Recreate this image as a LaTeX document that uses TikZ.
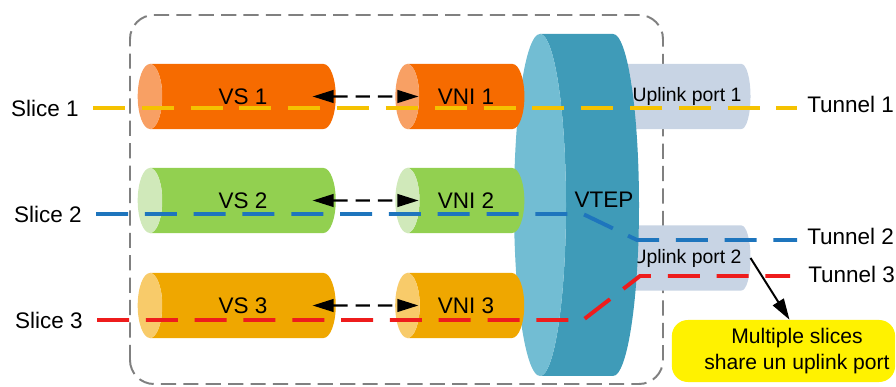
\documentclass[tikz,border=0pt]{standalone}
\usepackage{fontspec}
\setmainfont{Liberation Sans}
\usetikzlibrary{arrows.meta,positioning,shapes.geometric}

\definecolor{vsone}{HTML}{F66B00}
\definecolor{vsonecap}{HTML}{F8A064}
\definecolor{vstwo}{HTML}{92D050}
\definecolor{vstwocap}{HTML}{D0E9BA}
\definecolor{vsthree}{HTML}{EFA700}
\definecolor{vsthreecap}{HTML}{F8CB6A}
\definecolor{vtepdark}{HTML}{3F9BB8}
\definecolor{vteplight}{HTML}{72BDD3}
\definecolor{uplink}{HTML}{C8D4E4}
\definecolor{sliceyellow}{HTML}{F5C200}
\definecolor{sliceblue}{HTML}{1E75BD}
\definecolor{slicered}{HTML}{EE1C1C}

\begin{document}
\begin{tikzpicture}[
  x=0.025cm, y=0.025cm,
  tube/.style={cylinder, shape border rotate=180, shape aspect=1.54, cylinder uses custom fill, minimum width=1.625cm, inner sep=0pt, outer sep=0pt, font=\fontsize{16}{19}\selectfont},
  port/.style={tube, shape aspect=1, cylinder body fill=uplink, cylinder end fill=uplink, minimum height=3.2cm, font=\fontsize{13.8}{16}\selectfont},
  lbl/.style={inner sep=0pt, align=center, font=\fontsize{16}{19}\selectfont},
  slice/.style={line width=2.8pt, dash pattern=on 0.8cm off 0.42cm, shorten <=0.35cm},
  link/.style={{Triangle[length=15pt, width=9pt]}-{Triangle[length=15pt, width=9pt]}, line width=1.5pt, dash pattern=on 0.36cm off 0.2cm},
  arr/.style={-{Triangle[length=15pt, width=9pt]}, line width=1.4pt}
]
\useasboundingbox (0,0) rectangle (896,387);

% switch frame
\draw[gray, line width=1.4pt, dash pattern=on 0.38cm off 0.18cm, rounded corners=0.6cm] (130,3) rectangle (663,372);

% uplink ports
\node[port] (up1) at (687,290.5) {Uplink port 1};
\node[port] (up2) at (687,129) {Uplink port 2};

% VTEP disk
\fill[vtepdark] (540,353) -- (613,353) arc[start angle=90, end angle=-90, x radius=26, y radius=171] -- (540,11) arc[start angle=-90, end angle=90, x radius=26, y radius=171] -- cycle;
\fill[vteplight] (540,182) ellipse[x radius=26, y radius=171];
\node[lbl] (vtep) at (604,187) {VTEP};

% virtual switches and VNIs
\node[tube, minimum height=4.95cm, cylinder body fill=vsone, cylinder end fill=vsonecap] (vs1) at (243,290.5) {VS 1};
\node[tube, minimum height=3.225cm, cylinder body fill=vsone, cylinder end fill=vsonecap] (vni1) at (466,290.5) {VNI 1};
\node[tube, minimum height=4.95cm, cylinder body fill=vstwo, cylinder end fill=vstwocap] (vs2) at (243,186.5) {VS 2};
\node[tube, minimum height=3.225cm, cylinder body fill=vstwo, cylinder end fill=vstwocap] (vni2) at (466,186.5) {VNI 2};
\node[tube, minimum height=4.95cm, cylinder body fill=vsthree, cylinder end fill=vsthreecap] (vs3) at (243,81.5) {VS 3};
\node[tube, minimum height=3.225cm, cylinder body fill=vsthree, cylinder end fill=vsthreecap] (vni3) at (466,81.5) {VNI 3};

% slices and tunnels
\node[lbl, anchor=east] (s1) at (79,279) {Slice 1};
\node[lbl, anchor=east] (s2) at (82,173) {Slice 2};
\node[lbl, anchor=east] (s3) at (83,67) {Slice 3};
\node[lbl, anchor=west] (t1) at (807,283) {Tunnel 1};
\node[lbl, anchor=west] (t2) at (807,151) {Tunnel 2};
\node[lbl, anchor=west] (t3) at (808,113) {Tunnel 3};
\coordinate (b2) at (583,173);
\coordinate (c2) at (637,147);
\coordinate (b3) at (583,67);
\coordinate (c3) at (640,111);

\draw[slice, sliceyellow, shorten >=0.25cm] (s1.east) -- (s1.east -| t1.west);
\draw[slice, sliceblue, shorten >=0.25cm] (s2.east) -- (b2) -- (c2) -- (c2 -| t2.west);
\draw[slice, slicered, shorten >=0.45cm] (s3.east) -- (b3) -- (c3) -- (c3 -| t3.west);

% VS to VNI mapping
\draw[link] ([xshift=-0.58cm]vs1.east) -- ([xshift=0.58cm]vni1.west);
\draw[link] ([xshift=-0.58cm]vs2.east) -- ([xshift=0.58cm]vni2.west);
\draw[link] ([xshift=-0.58cm]vs3.east) -- ([xshift=0.58cm]vni3.west);

% shared uplink note
\node[fill=yellow, rounded corners=0.4cm, minimum width=5.58cm, minimum height=1.55cm, inner sep=0pt] (box) at (783.5,36) {};
\node[lbl, font=\fontsize{15}{18}\selectfont] (note) at (797,36) {Multiple slices\\share un uplink port};
\draw[arr] (up2.east) -- ([xshift=0.15cm]box.north);
\end{tikzpicture}
\end{document}
